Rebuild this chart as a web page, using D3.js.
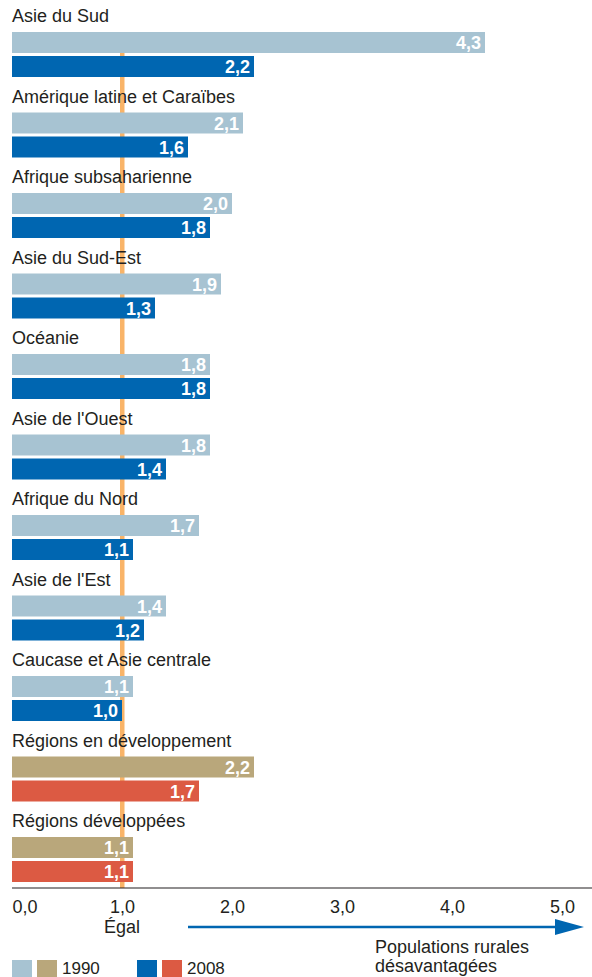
<!DOCTYPE html>
<html>
<head>
<meta charset="utf-8">
<script src="https://cdn.jsdelivr.net/npm/d3@7"></script>
<style>
  html, body { margin: 0; padding: 0; background: #fff; }
  svg { display: block; font-family: "Liberation Sans", Arial, sans-serif; }
</style>
</head>
<body>
<svg id="chart" width="592" height="977"></svg>
<script>
// Regions, top to bottom
const regions = [
  "Asie du Sud",
  "Amérique latine et Caraïbes",
  "Afrique subsaharienne",
  "Asie du Sud-Est",
  "Océanie",
  "Asie de l'Ouest",
  "Afrique du Nord",
  "Asie de l'Est",
  "Caucase et Asie centrale",
  "Régions en développement",
  "Régions développées"
];
// Ratio values per region
const values1990 = [4.3, 2.1, 2.0, 1.9, 1.8, 1.8, 1.7, 1.4, 1.1, 2.2, 1.1];
const values2008 = [2.2, 1.6, 1.8, 1.3, 1.8, 1.4, 1.1, 1.2, 1.0, 1.7, 1.1];
// Aggregate rows use the alternate palette
const aggregate = [false, false, false, false, false, false, false, false, false, true, true];
const axisTicks = [0, 1, 2, 3, 4, 5];
const legendYears = ["1990", "2008"];

const colors = {
  light: "#a7c3d2",
  dark: "#0066b1",
  tanLight: "#b9a77b",
  tanDark: "#dc5a43",
  equal: "#f9b468",
  text: "#231f20"
};

const svg = d3.select("#chart");
const fmt = v => d3.format(".1f")(v).replace(".", ",");

const x = d3.scaleLinear().domain([0, 5]).range([12, 562]);

const groupStep = 80.5;
const firstBarTop = 32;
const barH = 21;
const barGap = 3;

const y = d3.scaleBand()
  .domain(regions)
  .range([firstBarTop, firstBarTop + groupStep * regions.length])
  .paddingInner(0).paddingOuter(0);

// Equality reference line at 1,0
svg.append("rect")
  .attr("x", x(1) - 2)
  .attr("y", firstBarTop)
  .attr("width", 4.5)
  .attr("height", 888 - firstBarTop)
  .attr("fill", colors.equal);

const rows = svg.selectAll("g.row")
  .data(regions.map((r, i) => ({ name: r, v1: values1990[i], v2: values2008[i], agg: aggregate[i] })))
  .join("g")
  .attr("class", "row")
  .attr("transform", d => `translate(0,${y(d.name)})`);

rows.append("text")
  .attr("x", 12)
  .attr("y", -10)
  .attr("font-size", 18)
  .attr("fill", colors.text)
  .text(d => d.name);

rows.append("rect")
  .attr("x", x(0))
  .attr("y", 0)
  .attr("width", d => x(d.v1) - x(0))
  .attr("height", barH)
  .attr("fill", d => d.agg ? colors.tanLight : colors.light);

rows.append("rect")
  .attr("x", x(0))
  .attr("y", barH + barGap)
  .attr("width", d => x(d.v2) - x(0))
  .attr("height", barH)
  .attr("fill", d => d.agg ? colors.tanDark : colors.dark);

rows.append("text")
  .attr("x", d => x(d.v1) - 4)
  .attr("y", 17)
  .attr("text-anchor", "end")
  .attr("font-size", 18)
  .attr("font-weight", "bold")
  .attr("fill", "#ffffff")
  .text(d => fmt(d.v1));

rows.append("text")
  .attr("x", d => x(d.v2) - 4)
  .attr("y", barH + barGap + 17)
  .attr("text-anchor", "end")
  .attr("font-size", 18)
  .attr("font-weight", "bold")
  .attr("fill", "#ffffff")
  .text(d => fmt(d.v2));

// Bottom axis
const axisY = 888;
const axis = d3.axisBottom(x)
  .tickValues(axisTicks)
  .tickFormat(fmt)
  .tickSize(0)
  .tickPadding(12);

const axisG = svg.append("g")
  .attr("transform", `translate(0,${axisY})`)
  .call(axis);
axisG.select(".domain").remove();
axisG.append("line")
  .attr("x1", 12).attr("x2", 592)
  .attr("y1", 0).attr("y2", 0)
  .attr("stroke", colors.text)
  .attr("stroke-width", 1.2);
axisG.selectAll(".tick text")
  .attr("font-size", 18)
  .attr("font-family", "Liberation Sans, Arial, sans-serif")
  .attr("fill", colors.text)
  .attr("text-anchor", d => d === 0 ? "start" : "middle");

svg.append("text")
  .attr("x", x(1))
  .attr("y", 933)
  .attr("text-anchor", "middle")
  .attr("font-size", 18)
  .attr("fill", colors.text)
  .text("Égal");

// Direction arrow
const arrowY = 927;
svg.append("line")
  .attr("x1", 188).attr("x2", 557)
  .attr("y1", arrowY).attr("y2", arrowY)
  .attr("stroke", colors.dark)
  .attr("stroke-width", 2.5);
svg.append("path")
  .attr("d", `M555,${arrowY - 8} L584,${arrowY} L555,${arrowY + 8} Z`)
  .attr("fill", colors.dark);

svg.append("text")
  .attr("x", 375)
  .attr("y", 953)
  .attr("font-size", 18)
  .attr("fill", colors.text)
  .text("Populations rurales");
svg.append("text")
  .attr("x", 375)
  .attr("y", 972)
  .attr("font-size", 18)
  .attr("fill", colors.text)
  .text("désavantagées");

// Legend
const legend = [
  { swatches: [colors.light, colors.tanLight], x: 12, label: legendYears[0] },
  { swatches: [colors.dark, colors.tanDark], x: 137, label: legendYears[1] }
];
const lg = svg.selectAll("g.legend")
  .data(legend)
  .join("g")
  .attr("class", "legend")
  .attr("transform", d => `translate(${d.x},960)`);
lg.selectAll("rect")
  .data(d => d.swatches)
  .join("rect")
  .attr("x", (c, i) => i * 25)
  .attr("y", 0)
  .attr("width", 20)
  .attr("height", 17)
  .attr("fill", c => c);
lg.append("text")
  .attr("x", 50)
  .attr("y", 14)
  .attr("font-size", 17)
  .attr("fill", colors.text)
  .text(d => d.label);
</script>
</body>
</html>
